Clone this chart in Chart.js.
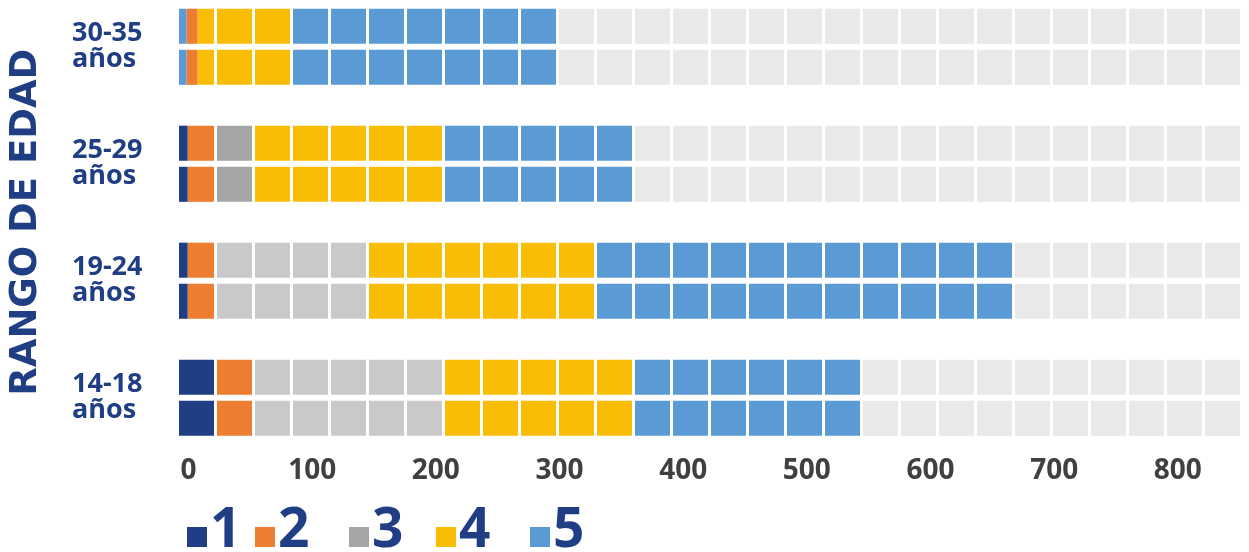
<!DOCTYPE html>
<html lang="es">
<head>
<meta charset="utf-8">
<title>Rango de edad</title>
<script src="https://cdn.jsdelivr.net/npm/chart.js@4.4.1/dist/chart.umd.min.js"></script>
<style>
  body { margin: 0; background: #fff; }
  #wrap { position: relative; width: 1249px; height: 552px; }
  #legend { position: absolute; left: 0; top: 498px; width: 100%; font: bold 55px/55px 'Open Sans', sans-serif; color: #1F3E84; }
  .item { position: absolute; top: 0; white-space: nowrap; }
  .box { display: inline-block; width: 20px; height: 20px; margin-right: 3px; }
</style>
</head>
<body>
<div id="wrap">
  <canvas id="chart"></canvas>
  <div id="legend"></div>
</div>
<script>
// rangos de edad, de arriba hacia abajo
const categorias = ['30-35', '25-29', '19-24', '14-18'];
const nombresSeries = ['1', '2', '3', '4', '5'];

const serie1 = [6, 7, 7, 29];
const serie2 = [9, 22, 22, 31];
const serie3 = [0, 31, 123, 154];
const serie4 = [76, 154, 184, 153];
const serie5 = [215, 153, 340, 185];

const ticksX = [0, 100, 200, 300, 400, 500, 600, 700, 800];
const MAX_X = 858;

// estilo
const AZUL = '#1F3E84';
const FUENTE = "'Open Sans', sans-serif";
const coloresLeyenda = [AZUL, '#ED7D31', '#A5A5A5', '#F9BD06', '#5B9BD5'];
const coloresBarras = [
  ['#5B9BD5', AZUL, AZUL, AZUL],
  '#ED7D31',
  ['#A5A5A5', '#A5A5A5', '#C9C9C9', '#C9C9C9'],
  '#F9BD06',
  '#5B9BD5'
];
const FONDO = '#E9E9E9';
const PRIMER_CORTE = 29.3;   // primera linea blanca (unidades del eje)
const ANCHO_CELDA = 30.75;
const LEYENDA_X = [187, 255, 349, 436, 530];

const series = [serie1, serie2, serie3, serie4, serie5];
const resto = categorias.map((_, j) => MAX_X - series.reduce((s, arr) => s + arr[j], 0));

// cada rango se dibuja dos veces (dos barras iguales)
const datasets = [];
['a', 'b'].forEach(stack => {
  series.forEach((data, i) => {
    datasets.push({ label: nombresSeries[i], data, backgroundColor: coloresBarras[i], stack, clip: false });
  });
  datasets.push({ label: 'resto', data: resto, backgroundColor: FONDO, stack, clip: false });
});

// lineas blancas que separan las celdas
const celdas = {
  id: 'celdas',
  afterDatasetsDraw(chart) {
    const { ctx, scales: { x } } = chart;
    let top = Infinity, bottom = -Infinity;
    chart.getSortedVisibleDatasetMetas().forEach(meta => meta.data.forEach(bar => {
      const { y, height } = bar.getProps(['y', 'height'], true);
      top = Math.min(top, y - height / 2);
      bottom = Math.max(bottom, y + height / 2);
    }));
    ctx.save();
    ctx.strokeStyle = '#fff';
    ctx.lineWidth = 3;
    for (let v = PRIMER_CORTE; v < MAX_X; v += ANCHO_CELDA) {
      const px = Math.floor(x.getPixelForValue(v)) + 0.5;
      ctx.beginPath();
      ctx.moveTo(px, top - 1);
      ctx.lineTo(px, bottom + 1);
      ctx.stroke();
    }
    ctx.restore();
  }
};

new Chart(document.getElementById('chart'), {
  type: 'bar',
  data: {
    labels: categorias.map(c => [c, 'años']),
    datasets
  },
  plugins: [celdas],
  options: {
    responsive: true,
    maintainAspectRatio: false,
    animation: false,
    indexAxis: 'y',
    layout: { padding: { top: 46.8, right: 2, bottom: 7.7, left: 0 } },
    datasets: { bar: { categoryPercentage: 0.702, barPercentage: 0.8537, borderWidth: 0 } },
    plugins: { legend: { display: false }, tooltip: { enabled: false } },
    scales: {
      x: {
        type: 'linear',
        stacked: true,
        min: 0,
        max: MAX_X,
        grid: { display: false, drawTicks: false },
        border: { display: false },
        afterBuildTicks: s => { s.ticks = ticksX.map(v => ({ value: v })); },
        ticks: { padding: 56.5, labelOffset: 9.5, color: '#404040', font: { family: FUENTE, size: 28, weight: 'bold' } }
      },
      y: {
        type: 'category',
        stacked: true,
        offset: false,
        weight: 0,
        grid: { display: false, drawTicks: false },
        border: { display: false },
        afterFit: s => { s.width = 107; },
        ticks: { crossAlign: 'far', autoSkip: false, color: AZUL, font: { family: FUENTE, size: 27, weight: 'bold', lineHeight: '26px' } }
      },
      titulo: {
        type: 'linear',
        position: 'left',
        weight: 1,
        grid: { display: false, drawTicks: false },
        border: { display: false },
        ticks: { display: false },
        afterFit: s => { s.width = 72; },
        title: {
          display: true,
          text: 'RANGO DE EDAD',
          color: AZUL,
          font: { family: "'DejaVu Sans', sans-serif", size: 37, weight: 'bold', lineHeight: 1.2 },
          padding: { top: 4, bottom: 0 }
        }
      }
    }
  }
});

// leyenda
const leyenda = document.getElementById('legend');
nombresSeries.forEach((n, i) => {
  const item = document.createElement('div');
  item.className = 'item';
  item.style.left = LEYENDA_X[i] + 'px';
  const box = document.createElement('span');
  box.className = 'box';
  box.style.background = coloresLeyenda[i];
  item.appendChild(box);
  item.appendChild(document.createTextNode(n));
  leyenda.appendChild(item);
});
</script>
</body>
</html>
